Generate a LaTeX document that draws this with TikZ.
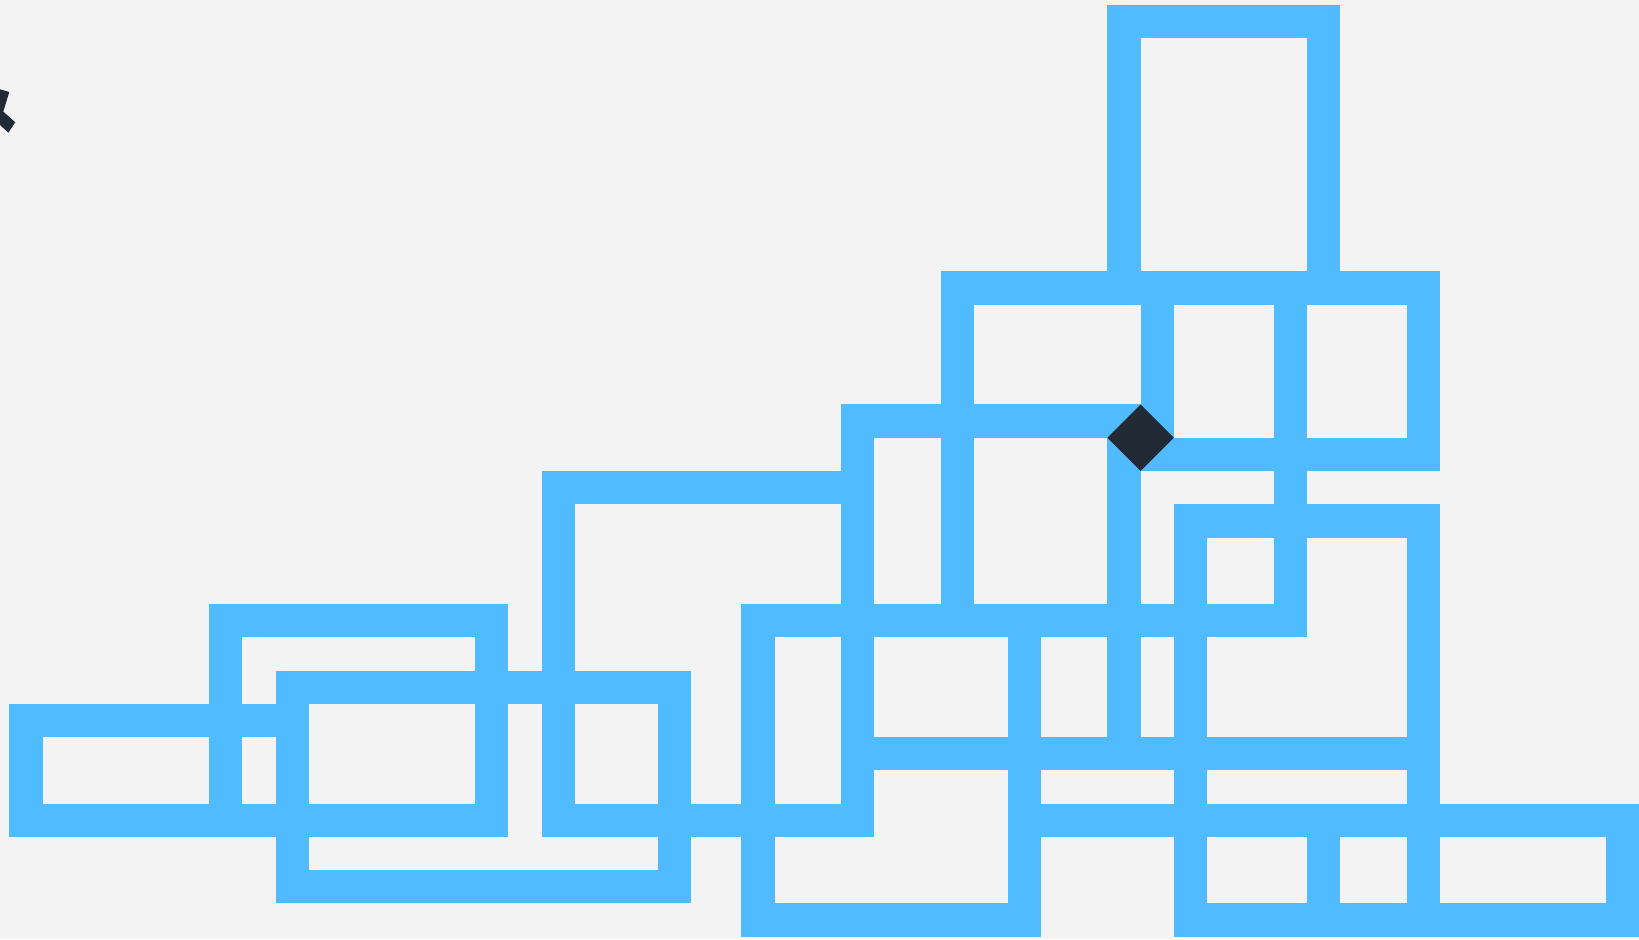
\documentclass[tikz,border=0pt]{standalone}
\usepackage{xcolor}
\definecolor{cWall}{RGB}{80,188,255}
\definecolor{cBack}{RGB}{243,243,243}
\definecolor{cInk}{RGB}{34,42,53}
\begin{document}
\begin{tikzpicture}[x=0.5cm, y=-0.5cm,
  wall/.style={draw=cWall, line width=0.5cm, line cap=rect, line join=miter},
  gem/.style={fill=cInk}]
\fill[cBack] (-0.2825,-0.156) rectangle (48.98,28.068);
\useasboundingbox (-0.2825,-0.156) rectangle (48.98,28.068);
\clip (-0.2825,-0.156) rectangle (48.98,28.068);
% framed blocks, given by outer corners
\foreach \xa/\ya/\xb/\yb in {33/0/40/9, 0/21/9/25, 6/18/15/25, 8/20/20.5/27,
    16/14/26/25, 22/18/31/28, 35/15/43/28, 42/24/49/28}
  \draw[wall] (\xa+.5,\ya+.5) rectangle (\xb-.5,\yb-.5);
% open walls
\draw[wall] (28.5,18.5) -- (28.5,8.5) -- (42.5,8.5) -- (42.5,13.5) -- (34.5,13.5);
\draw[wall] (34.5,8.5) -- (34.5,12.5);
\draw[wall] (33.5,12.5) -- (25.5,12.5) -- (25.5,14.5);
\draw[wall] (33.5,13.5) -- (33.5,22.5);
\draw[wall] (22.5,18.5) -- (38.5,18.5) -- (38.5,8.5);
\draw[wall] (25.5,22.5) -- (42.5,22.5);
\draw[wall] (30.5,24.5) -- (48.5,24.5);
\draw[wall] (39.5,24.5) -- (39.5,27.5);
% key and corner shard
\fill[gem] (33,13) -- (34,12) -- (35,13) -- (34,14) -- cycle;
\fill[gem] (-0.2825,2.528) -- (-0.003,2.609) -- (-0.183,3.201) -- (0.177,3.52)
  -- (-0.033,3.832) -- (-0.2825,3.601) -- cycle;
\end{tikzpicture}
\end{document}
